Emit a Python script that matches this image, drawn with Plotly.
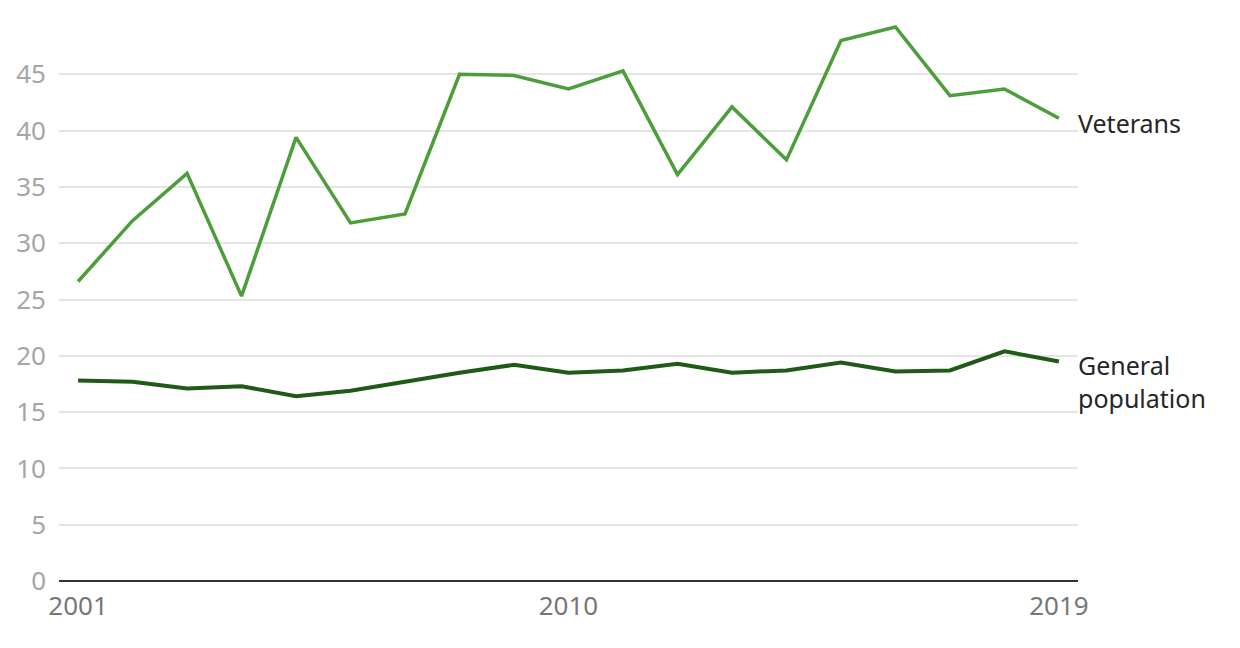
import plotly.graph_objects as go

years = list(range(2001, 2020))
veterans = [26.6, 32.0, 36.2, 25.3, 39.4, 31.8, 32.6, 45.0, 44.9, 43.7,
            45.3, 36.1, 42.1, 37.4, 48.0, 49.2, 43.1, 43.7, 41.1]
general = [17.8, 17.7, 17.1, 17.3, 16.4, 16.9, 17.7, 18.5, 19.2, 18.5,
           18.7, 19.3, 18.5, 18.7, 19.4, 18.6, 18.7, 20.4, 19.5]
y_ticks = [0, 5, 10, 15, 20, 25, 30, 35, 40, 45]
x_ticks = [2001, 2010, 2019]

FONT = "Noto Sans"

fig = go.Figure()
fig.add_trace(go.Scatter(x=years, y=veterans, mode="lines", name="Veterans",
                         line=dict(color="#4c9e3a", width=3.5)))
fig.add_trace(go.Scatter(x=years, y=general, mode="lines", name="General population",
                         line=dict(color="#1f5a16", width=4)))

# direct labels at the line ends
fig.add_annotation(x=1, xref="paper", y=veterans[-1], yref="y", text="Veterans",
                   showarrow=False, xanchor="left", yanchor="middle", yshift=-5, xshift=-2,
                   font=dict(family=FONT, size=25, color="#262626"))
fig.add_annotation(x=1, xref="paper", y=general[-1], yref="y", text="General<br>population",
                   showarrow=False, xanchor="left", yanchor="top", yshift=15, xshift=-2,
                   align="left",
                   font=dict(family=FONT, size=25, color="#262626"))

fig.update_layout(
    width=1240, height=648,
    margin=dict(l=51, r=170, t=10, b=75),
    paper_bgcolor="white", plot_bgcolor="white",
    showlegend=False,
    font=dict(family=FONT),
)
fig.update_xaxes(range=[2000.65, 2019.35], tickvals=x_ticks, ticktext=[str(t) for t in x_ticks],
                 showgrid=False, zeroline=False, showline=False, ticks="",
                 ticklabelstandoff=7, automargin=False,
                 tickfont=dict(size=26, color="#777777"))
fig.update_yaxes(range=[0, 50], tickvals=y_ticks, showgrid=True, gridcolor="#e5e5e5",
                 gridwidth=1.5, zeroline=True, zerolinecolor="#333333", zerolinewidth=2,
                 showline=False, ticks="", ticklabelstandoff=12, automargin=False,
                 tickfont=dict(size=26, color="#a6a6a6"))

fig.write_html("out.html")
